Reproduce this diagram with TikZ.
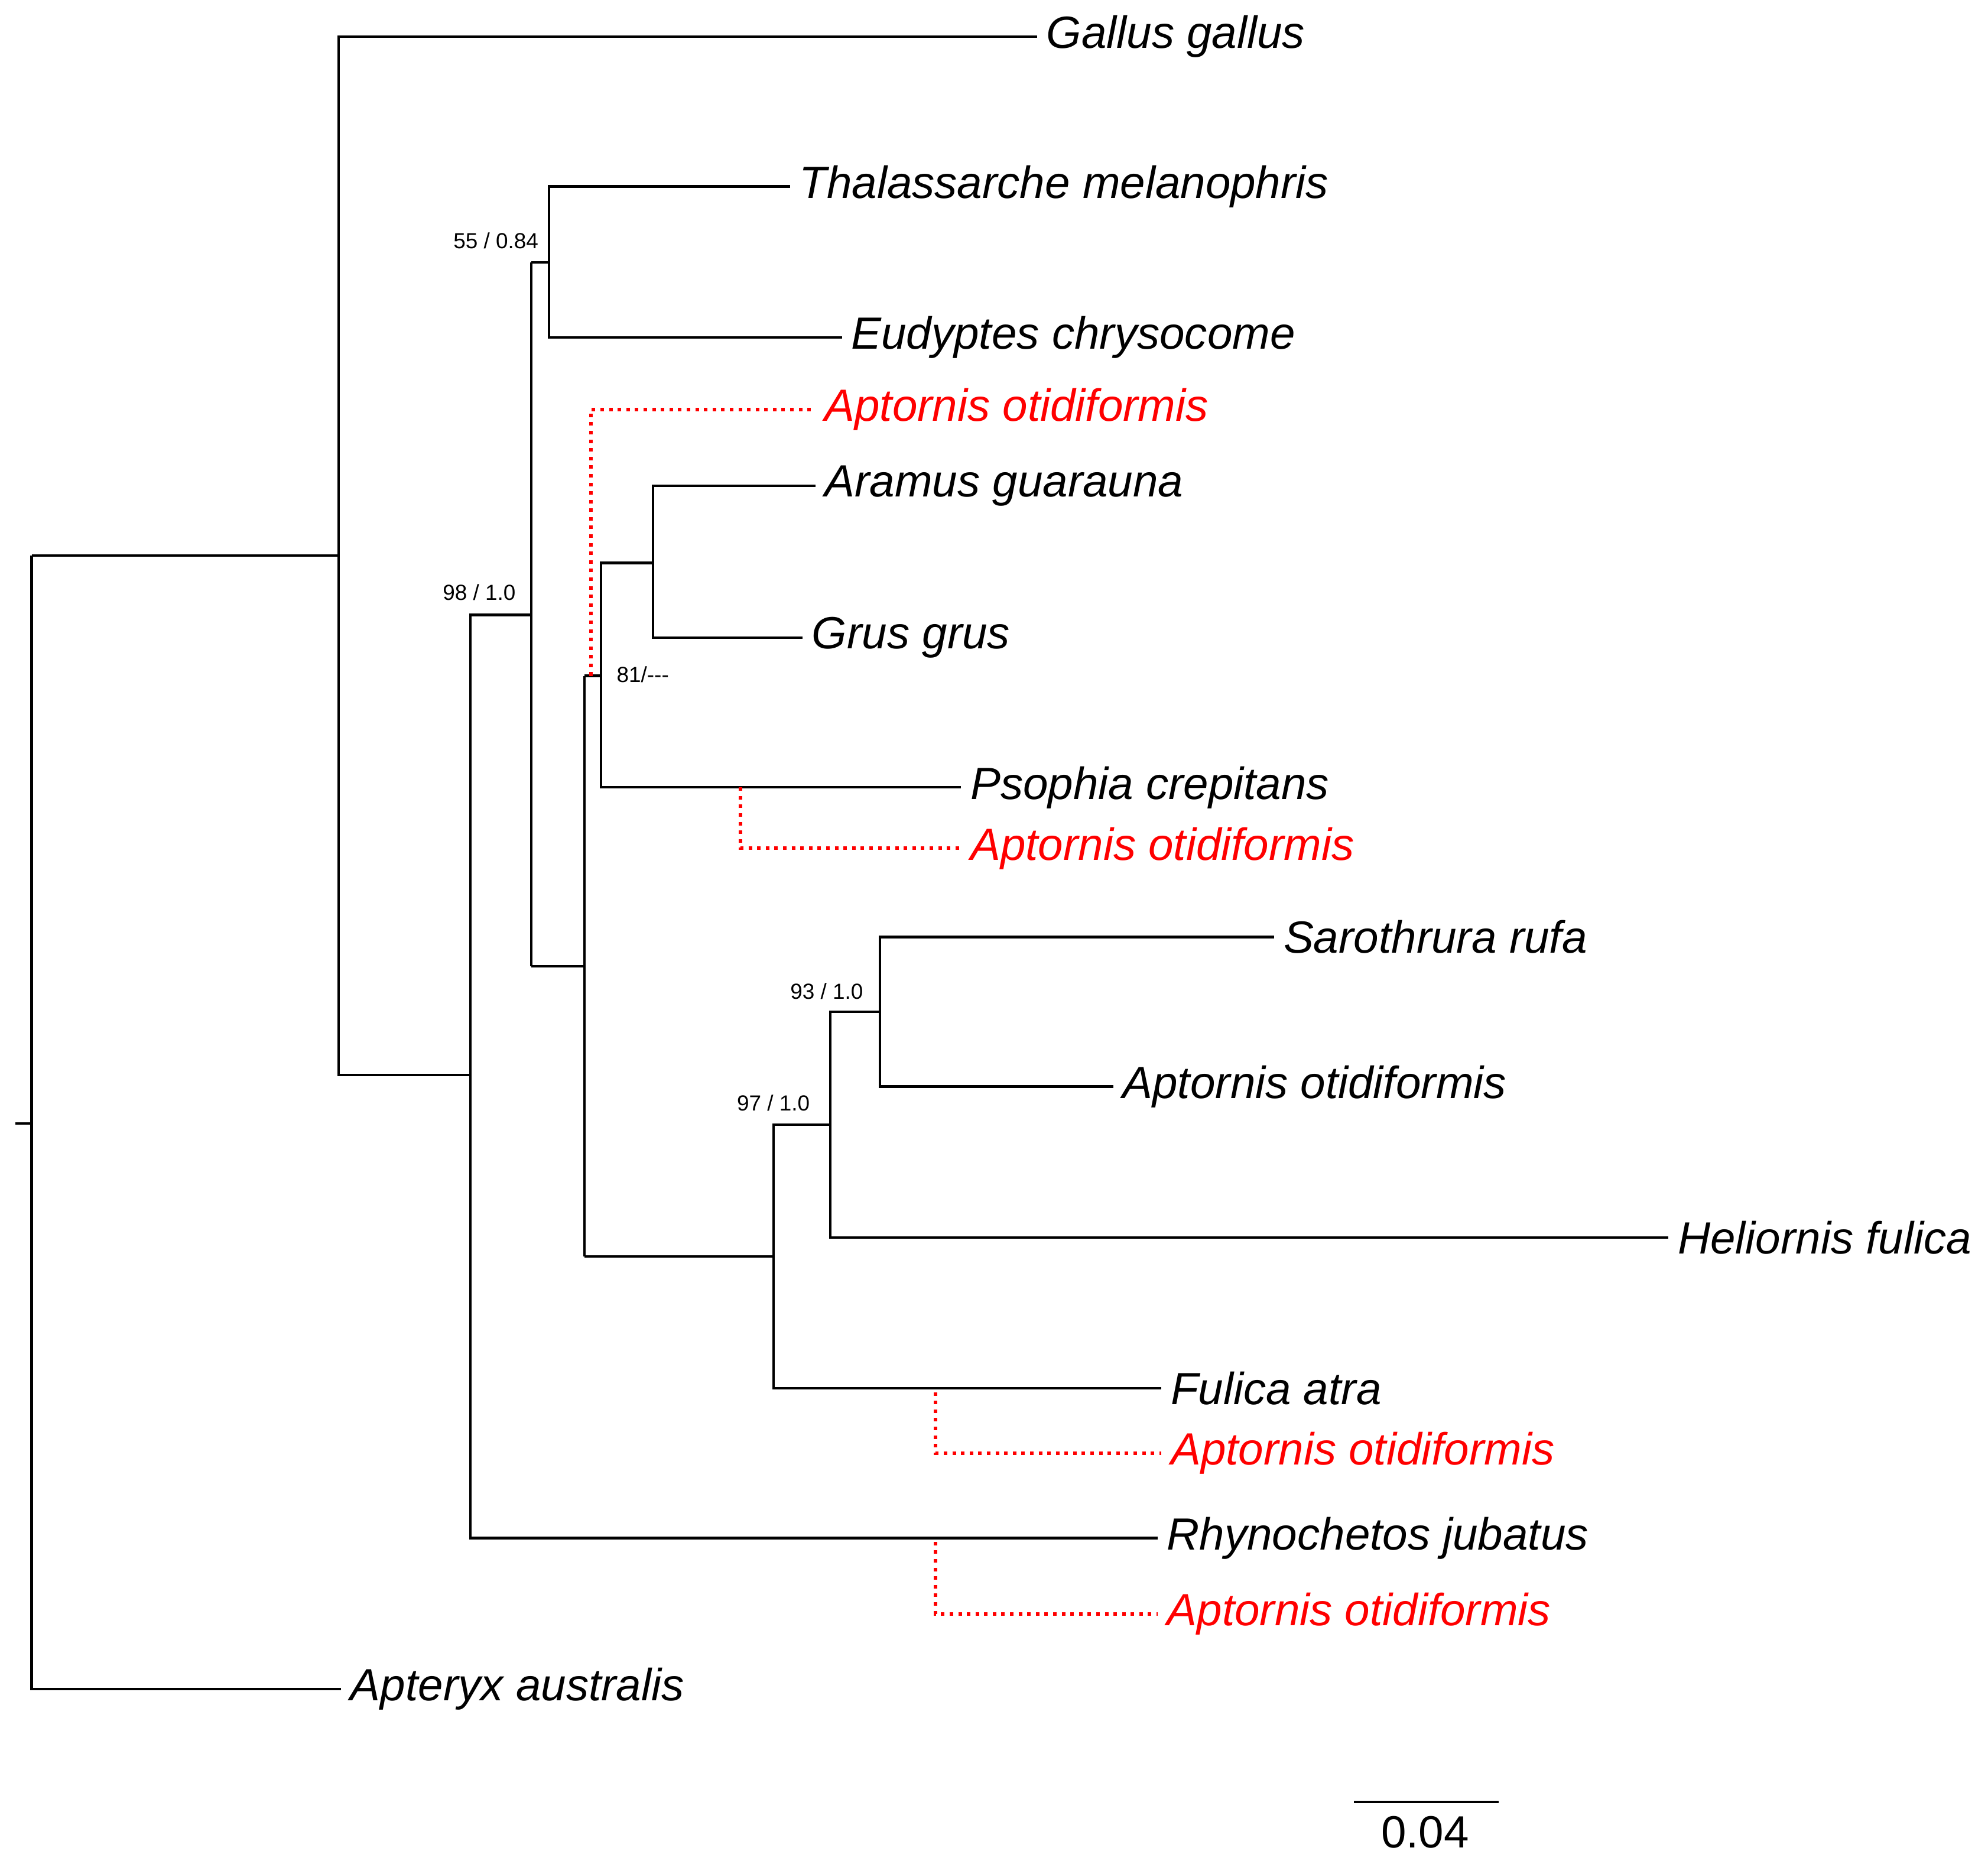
\documentclass[tikz,border=0pt]{standalone}
\usepackage{fontspec}
\setmainfont{Liberation Sans}
\begin{document}
\begin{tikzpicture}[x=0.5pt,y=-0.5pt,
  br/.style={line width=1pt,black},
  lf/.style={br,shorten >=3.5pt},
  rd/.style={line width=1.4pt,red,dotted,shorten >=3.5pt},
  tx/.style={anchor=west,inner sep=0pt,font=\fontsize{17.8}{20}\selectfont\itshape},
  rt/.style={tx,text=red},
  sl/.style={inner sep=0pt,font=\fontsize{8.6}{10}\selectfont}]
\useasboundingbox (0,0) rectangle (1568,1470);
% internal nodes
\coordinate (r0) at (12,886);
\coordinate (r) at (25,886);
\coordinate (a) at (25,438);
\coordinate (b) at (267,438);
\coordinate (c) at (267,848);
\coordinate (d) at (371,848);
\coordinate (e) at (371,485);
\coordinate (f) at (419,485);
\coordinate (g) at (419,207);
\coordinate (h) at (433,207);
\coordinate (i) at (419,762);
\coordinate (j) at (461,762);
\coordinate (k) at (461,533);
\coordinate (l) at (474,533);
\coordinate (m) at (474,444);
\coordinate (n) at (515,444);
\coordinate (o) at (461,991);
\coordinate (p) at (610,991);
\coordinate (q) at (610,887);
\coordinate (s) at (655,887);
\coordinate (t) at (655,798);
\coordinate (u) at (694,798);
\coordinate (ra) at (466,533);
\coordinate (rb) at (584,621);
\coordinate (rc) at (738,1098);
\coordinate (rdd) at (738,1216);
% leaves
\node[tx] (Lgal) at (825,29) {Gallus gallus};
\node[tx] (Lthal) at (630,147) {Thalassarche melanophris};
\node[tx] (Leud) at (671,266) {Eudyptes chrysocome};
\node[rt] (Lr1) at (650,323) {Aptornis otidiformis};
\node[tx] (Lara) at (650,383) {Aramus guarauna};
\node[tx] (Lgru) at (640,503) {Grus grus};
\node[tx] (Lpso) at (765,621) {Psophia crepitans};
\node[rt] (Lr2) at (765,669) {Aptornis otidiformis};
\node[tx] (Lsar) at (1012,739) {Sarothrura rufa};
\node[tx] (Lapt) at (885,857) {Aptornis otidiformis};
\node[tx] (Lhel) at (1323,976) {Heliornis fulica};
\node[tx] (Lful) at (923,1095) {Fulica atra};
\node[rt] (Lr3) at (923,1146) {Aptornis otidiformis};
\node[tx] (Lrhy) at (920,1213) {Rhynochetos jubatus};
\node[rt] (Lr4) at (920,1273) {Aptornis otidiformis};
\node[tx] (Lapx) at (276,1332) {Apteryx australis};
% support labels
\node[sl,anchor=east] (s1) at (425,190) {55 / 0.84};
\node[sl] (s2) at (378,467) {98 / 1.0};
\node[sl] (s3) at (507,532) {81/{-}{-}{-}};
\node[sl] (s4) at (652,782) {93 / 1.0};
\node[sl] (s5) at (610,870) {97 / 1.0};
% branches
\draw[br] (r0) -- (r);
\draw[lf] (a) |- (Lapx.west);
\draw[br] (a) -- (b) -- (c) -- (d);
\draw[lf] (b) |- (Lgal.west);
\draw[br] (d) -- (e) -- (f);
\draw[lf] (d) |- (Lrhy.west);
\draw[br] (g) -- (i);
\draw[br] (g) -- (h);
\draw[lf] (h) |- (Lthal.west);
\draw[lf] (h) |- (Leud.west);
\draw[br] (i) -- (j);
\draw[br] (k) -- (o);
\draw[br] (k) -- (l) -- (m) -- (n);
\draw[lf] (l) |- (Lpso.west);
\draw[lf] (n) |- (Lara.west);
\draw[lf] (n) |- (Lgru.west);
\draw[br] (o) -- (p) -- (q) -- (s) -- (t) -- (u);
\draw[lf] (p) |- (Lful.west);
\draw[lf] (s) |- (Lhel.west);
\draw[lf] (u) |- (Lsar.west);
\draw[lf] (u) |- (Lapt.west);
% placements
\draw[rd] (ra) |- (Lr1.west);
\draw[rd] (rb) |- (Lr2.west);
\draw[rd] (rc) |- (Lr3.west);
\draw[rd] (rdd) |- (Lr4.west);
% scale
\coordinate (sb1) at (1068,1421);
\coordinate (sb2) at (1182,1421);
\draw[br] (sb1) -- (sb2);
\node[inner sep=0pt,font=\fontsize{17.8}{20}\selectfont] (sbl) at (1124,1445) {0.04};
\end{tikzpicture}
\end{document}
